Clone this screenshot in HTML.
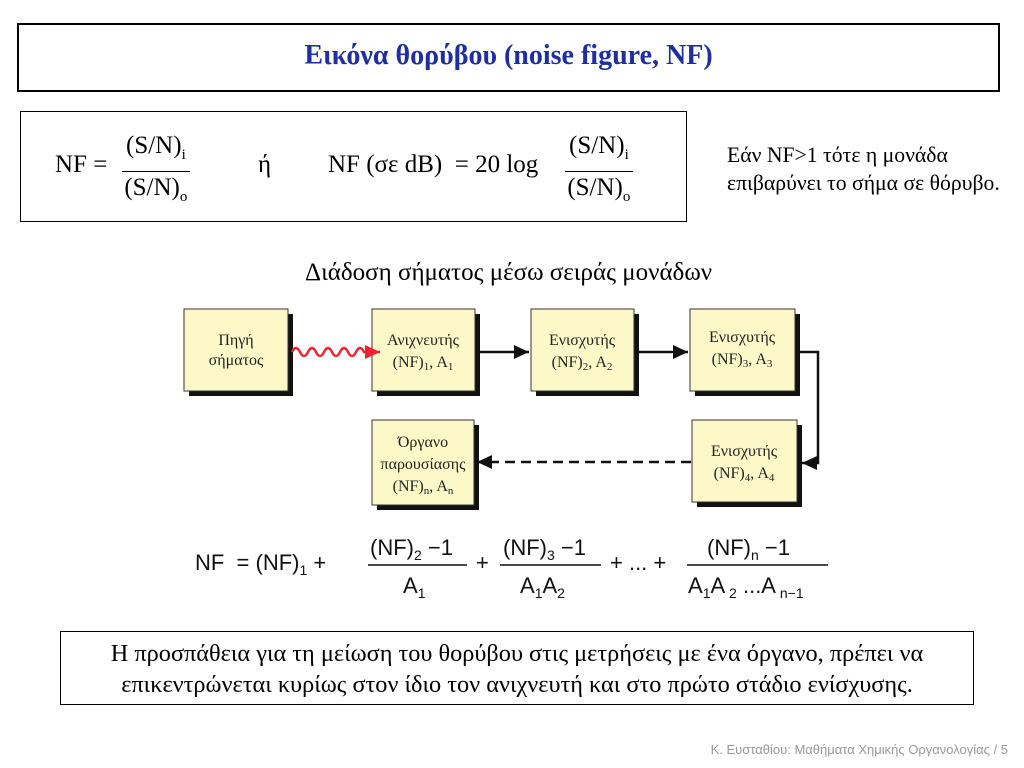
<!DOCTYPE html>
<html><head><meta charset="utf-8"><style>
body{margin:0;width:1024px;height:768px;background:#fff;position:relative;overflow:hidden;font-family:"Liberation Serif","DejaVu Serif",serif;}
.abs{position:absolute;}
.box{position:absolute;border:2px solid #000;box-sizing:border-box;}
.frac{position:absolute;display:flex;flex-direction:column;align-items:center;font-size:25px;line-height:31px;}
.frac .n{border-bottom:1.5px solid #000;padding:0 4px;}
sub{font-size:60%;}
</style></head><body>
<div class="box" style="left:17px;top:23px;width:983px;height:69px;border-width:2px;"></div>
<div class="abs" style="left:17px;top:40px;width:983px;text-align:center;font-size:28px;font-weight:bold;color:#1f2fa0;">Εικόνα θορύβου (noise figure, NF)</div>

<div class="box" style="left:20px;top:111px;width:667px;height:111px;border-width:1px;"></div>
<div class="abs" style="left:55px;top:151px;font-size:25px;">NF =</div>
<div class="frac" style="left:122px;top:130px;"><span class="n">(S/N)<sub>i</sub></span><span>(S/N)<sub>o</sub></span></div>
<div class="abs" style="left:258px;top:151px;font-size:25px;">ή</div>
<div class="abs" style="left:328px;top:151px;font-size:25px;white-space:nowrap;">NF (σε dB) &nbsp;= 20 log</div>
<div class="frac" style="left:565px;top:130px;"><span class="n">(S/N)<sub>i</sub></span><span>(S/N)<sub>o</sub></span></div>
<div class="abs" style="left:727px;top:141px;font-size:21.7px;line-height:28px;white-space:nowrap;">Εάν NF&gt;1 τότε η μονάδα<br>επιβαρύνει το σήμα σε θόρυβο.</div>

<div class="abs" style="left:305px;top:259px;font-size:25px;white-space:nowrap;">Διάδοση σήματος μέσω σειράς μονάδων</div>

<svg class="abs" style="left:0;top:0" width="1024" height="768">
<defs><marker id="ah" markerUnits="userSpaceOnUse" markerWidth="16" markerHeight="16" refX="15" refY="8" orient="auto"><path d="M0,1L15,8L0,15z" fill="#111"/></marker>
<marker id="ar" markerUnits="userSpaceOnUse" markerWidth="16" markerHeight="16" refX="15" refY="8" orient="auto"><path d="M0,1L15,8L0,15z" fill="#e23"/></marker></defs>
<g fill="#111">
<rect x="189" y="314" width="104" height="82"/><rect x="377" y="314" width="103" height="82"/><rect x="536" y="314" width="103" height="82"/><rect x="695" y="314" width="105" height="82"/><rect x="697" y="425" width="105" height="82"/><rect x="377" y="425" width="102" height="85"/>
</g>
<g fill="#fdf8c8" stroke="#333" stroke-width="1">
<rect x="184" y="309" width="104" height="82"/><rect x="372" y="309" width="103" height="82"/><rect x="531" y="309" width="103" height="82"/><rect x="690" y="309" width="105" height="82"/><rect x="692" y="420" width="105" height="82"/><rect x="372" y="420" width="102" height="85"/>
</g>
<path d="M292,352 q4,-8 8,0 q4,8 8,0 q4,-8 8,0 q4,8 8,0 q4,-8 8,0 q4,8 8,0 q4,-8 8,0 q4,8 8,0 q4,-8 8,0 l16,0" fill="none" stroke="#e23" stroke-width="2.5" marker-end="url(#ar)"/>
<g stroke="#111" stroke-width="2.5" fill="none">
<line x1="480" y1="352" x2="529" y2="352" marker-end="url(#ah)"/>
<line x1="639" y1="352" x2="688" y2="352" marker-end="url(#ah)"/>
<polyline points="800,352 818,352 818,463 802,463" marker-end="url(#ah)"/>
<line x1="691" y1="462" x2="477" y2="462" stroke-dasharray="10,6" marker-end="url(#ah)"/>
</g>
<g font-family="Liberation Serif, serif" font-size="16" text-anchor="middle" fill="#222">
<text x="236" y="345">Πηγή</text><text x="236" y="365">σήματος</text>
<text x="423" y="345">Ανιχνευτής</text><text x="423" y="367">(NF)<tspan font-size="11" dy="3">1</tspan><tspan dy="-3">, A</tspan><tspan font-size="11" dy="3">1</tspan></text>
<text x="582" y="345">Ενισχυτής</text><text x="582" y="367">(NF)<tspan font-size="11" dy="3">2</tspan><tspan dy="-3">, A</tspan><tspan font-size="11" dy="3">2</tspan></text>
<text x="742" y="342">Ενισχυτής</text><text x="742" y="364">(NF)<tspan font-size="11" dy="3">3</tspan><tspan dy="-3">, A</tspan><tspan font-size="11" dy="3">3</tspan></text>
<text x="744" y="456">Ενισχυτής</text><text x="744" y="478">(NF)<tspan font-size="11" dy="3">4</tspan><tspan dy="-3">, A</tspan><tspan font-size="11" dy="3">4</tspan></text>
<text x="423" y="447">Όργανο</text><text x="423" y="469">παρουσίασης</text><text x="423" y="491">(NF)<tspan font-size="11" dy="3">n</tspan><tspan dy="-3">, A</tspan><tspan font-size="11" dy="3">n</tspan></text>
</g>
<g font-family="Liberation Sans, sans-serif" font-size="22" fill="#111">
<text x="195" y="570">NF &#160;= (NF)<tspan font-size="14" dy="5">1</tspan><tspan dy="-5"> +</tspan></text>
<text x="370" y="555">(NF)<tspan font-size="14" dy="5">2</tspan><tspan dy="-5"> −1</tspan></text>
<line x1="368" y1="565" x2="467" y2="565" stroke="#111" stroke-width="1.5"/>
<text x="403" y="593">A<tspan font-size="14" dy="5">1</tspan></text>
<text x="476" y="570">+</text>
<text x="503" y="555">(NF)<tspan font-size="14" dy="5">3</tspan><tspan dy="-5"> −1</tspan></text>
<line x1="500" y1="565" x2="601" y2="565" stroke="#111" stroke-width="1.5"/>
<text x="520" y="593">A<tspan font-size="14" dy="5">1</tspan><tspan dy="-5">A</tspan><tspan font-size="14" dy="5">2</tspan></text>
<text x="610" y="570">+ ... +</text>
<text x="707" y="555">(NF)<tspan font-size="14" dy="5">n</tspan><tspan dy="-5"> −1</tspan></text>
<line x1="687" y1="565" x2="828" y2="565" stroke="#111" stroke-width="1.5"/>
<text x="688" y="593">A<tspan font-size="14" dy="5">1</tspan><tspan dy="-5">A</tspan><tspan font-size="14" dy="5"> 2</tspan><tspan dy="-5"> ...A</tspan><tspan font-size="14" dy="5"> n−1</tspan></text>
</g>
</svg>

<div class="box" style="left:60px;top:631px;width:914px;height:74px;border-width:1px;"></div>
<div class="abs" style="left:60px;top:638px;width:914px;text-align:center;font-size:24.3px;line-height:31px;white-space:nowrap;">Η προσπάθεια για τη μείωση του θορύβου στις μετρήσεις με ένα όργανο, πρέπει να<br>επικεντρώνεται κυρίως στον ίδιο τον ανιχνευτή και στο πρώτο στάδιο ενίσχυσης.</div>

<div class="abs" style="right:16px;top:742px;font-family:'Liberation Sans',sans-serif;font-size:13px;color:#999;">Κ. Ευσταθίου: Μαθήματα Χημικής Οργανολογίας / 5</div>
</body></html>
